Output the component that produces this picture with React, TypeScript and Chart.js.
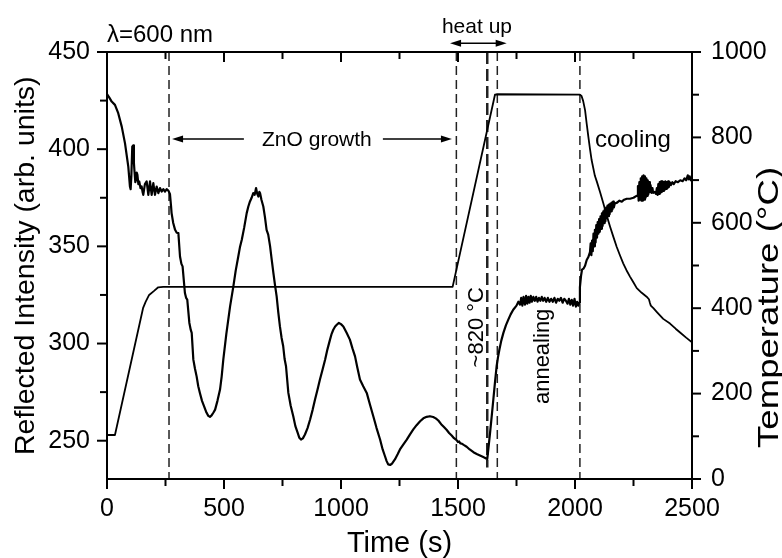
import React, { useEffect, useRef } from "react";
import { Chart, registerables } from "chart.js";

Chart.register(...registerables);

// ---------- data ----------
const reflT = [
  0, 10, 20, 34, 48, 63, 77, 91, 98, 101, 104, 108, 112, 115, 117, 121, 124, 127, 130, 134, 138, 143, 148, 152, 155, 162,
  169.5, 176.6, 183.8, 190.9, 198, 205, 212.3, 219.4, 226.5, 233.6, 240.7, 247.9, 255, 262, 269, 273.5, 276,
  283, 291, 298, 305, 312, 318, 323, 333, 338, 343, 352, 358, 362, 369, 376, 383, 390, 397, 406, 415, 425, 433, 440,
  447, 455, 462, 472, 483, 490, 497, 510, 526, 540, 550, 561, 568, 576, 586, 597, 604, 611, 618, 625, 631, 637, 642,
  647, 651, 654, 660, 668, 675, 682, 689, 697, 704, 711, 718, 725, 732, 739, 746, 753, 759, 765, 775, 785, 796, 805,
  815, 822, 829, 837, 846, 857, 868, 879, 889, 900, 910, 921, 932, 942, 953, 960, 967, 975, 983, 991, 1000, 1010,
  1024, 1038, 1049, 1060, 1070, 1081, 1095, 1110, 1124, 1138, 1152, 1167, 1178, 1188, 1195, 1202, 1210, 1218, 1231,
  1242, 1252, 1266, 1281, 1295, 1309, 1323, 1338, 1352, 1366, 1380, 1394, 1405, 1416, 1428, 1440, 1452, 1462, 1473,
  1483, 1494, 1500, 1505, 1510, 1516, 1526, 1537, 1550, 1566, 1580, 1594, 1608, 1618, 1625, 1630, 1637, 1644, 1651,
  1658, 1665, 1671, 1677, 1685, 1694, 1705, 1715, 1725, 1736, 1750, 1758,
  1765, 1770, 1775, 1780, 1786, 1791, 1796, 1801, 1806, 1811, 1816, 1822, 1828, 1834, 1840, 1846, 1852, 1858, 1864,
  1870, 1877, 1884, 1891, 1898, 1905, 1912, 1919, 1926, 1933, 1940, 1947, 1954, 1961, 1968, 1974, 1980, 1986, 1992,
  1998, 2004, 2009, 2014, 2018, 2021, 2026, 2030, 2036, 2043, 2050, 2057, 2064,
  2067, 2070, 2073, 2076, 2079, 2082, 2085, 2088, 2091, 2094, 2097, 2100, 2103, 2106, 2109, 2112, 2115, 2118, 2121,
  2124, 2127, 2130, 2133, 2136, 2139, 2142, 2145, 2148, 2151, 2154, 2157, 2160, 2163, 2166, 2170,
  2180, 2190, 2200, 2210, 2221, 2235, 2250, 2263,
  2266, 2269, 2272, 2275, 2278, 2281, 2284, 2287, 2290, 2293, 2296, 2299, 2302, 2305, 2308, 2311, 2314, 2317, 2320,
  2323, 2327, 2331, 2334, 2340, 2346,
  2350, 2353, 2356, 2359, 2362, 2365, 2368, 2371, 2374, 2377, 2380, 2383, 2386, 2389, 2392, 2395, 2398, 2401, 2405,
  2410, 2416, 2422, 2430, 2440, 2450, 2460, 2468, 2475, 2482, 2486, 2490, 2495, 2500,
];
const reflR = [
  428.4, 426.5, 424.5, 422.8, 418.5, 411.6, 403, 391, 380.8, 379.4, 386, 401.3, 402, 393, 389.4, 383, 384.2, 388, 386.8, 382, 383.3, 380, 380.8, 378, 376.5, 382,
  383.4, 376.5, 383.4, 376.5, 382.5, 376.5, 380.8, 377.4, 380, 378.2, 379.4, 378.2, 379.4, 378.7, 377, 371, 367.1,
  362, 358.5, 357, 356.8, 344.8, 341, 339.7, 326, 323.5, 322.6, 310.6, 307, 305.5, 291.7, 287, 283.1, 278, 274.6, 270.5, 267.7, 264.5, 262.8, 262.3,
  263, 264.5, 266, 270.5, 276.3, 283, 291.7, 305, 319.1, 329.4, 337.5, 344.8, 349.5, 353.4, 359.5, 367.1, 370.5, 373.1, 375, 377.4, 376.5, 380, 377,
  375.6, 378, 377.4, 374, 370.5, 365, 358.5, 356, 350, 343, 336.3, 330, 324.3, 316, 308.8, 303, 298.6, 292, 288.3, 274.6, 268, 262.6, 257.5,
  254, 251.5, 250.6, 251.2, 253.2, 256.5, 260.9, 266, 271.2, 276.5, 281.5, 286.5, 291.7, 297, 302, 305, 307.1, 308.8, 309.8, 310.6, 310, 308.8,
  305.5, 302, 297.5, 293.4, 287.5, 281.5, 278, 274.6, 268.5, 262.6, 256.5, 250.6, 245.5, 242, 239.5, 237.8, 237.5, 238.2, 240.5,
  243, 245.5, 248, 250.6, 253.3, 255.8, 258, 260, 261.5, 262.3, 262.6, 262.2, 261.5, 260.4, 258.5, 257, 255.5, 254, 252.7,
  251.3, 250.3, 249.3, 249.6, 248.6, 248.5, 247.7, 246.9, 245.5, 244.1, 243.2, 242.4, 241.6, 241, 240.5, 246, 254, 262.5, 271.2,
  280, 288.3, 293, 296.9, 301.5, 305.5, 309.5, 312.3, 315, 317.4, 319.5, 321.5,
  320, 323.5, 319.5, 324, 320, 324.5, 320.5, 324, 321, 324.5, 321.5, 324, 322, 324, 321.5, 323.5, 322, 324, 322,
  323.5, 321.5, 323.5, 321.5, 323, 321.5, 323.5, 321, 323, 322, 323.5, 321, 323, 322, 320.5, 323, 320, 322.5, 319.5,
  323, 319, 321.5, 319.5, 321, 329, 335, 338, 338.5, 340, 343, 344.5, 347,
  351.5, 345.5, 353, 347.5, 356.5, 350, 358.5, 352, 361, 354.5, 362.5, 356.5, 364, 357.5, 365.5, 359, 367, 360.5, 368,
  362, 369, 363, 370, 364.5, 371, 365.5, 371.5, 366.5, 372, 368, 372.5, 369, 373, 370, 372,
  372.5, 373.5, 373, 374, 374.5, 374.5, 375, 376,
  376, 381, 373.5, 383, 374, 385, 373.5, 386, 373.5, 386.5, 374, 386, 375, 385, 376, 384, 377, 383, 378,
  381.5, 377.5, 380, 377.5, 378, 377,
  380, 376.5, 382, 377, 383, 377.5, 383.5, 378, 383.5, 378.5, 383, 379, 383.5, 379.5, 383, 380, 383.5, 380.5, 383,
  381.5, 383, 382, 383.5, 383, 384, 383.5, 385, 384, 386.5, 384.5, 386, 384, 385,
];

const tempT = [
  0, 34, 154, 165, 180, 200, 219, 240, 1477, 1658, 1665, 2021, 2028, 2035, 2043, 2050, 2057, 2064, 2071, 2085, 2093,
  2107, 2121, 2135, 2150, 2164, 2178, 2192, 2206, 2220, 2235, 2250, 2264, 2285, 2306, 2316, 2320, 2324, 2335, 2350,
  2377, 2406, 2430, 2449, 2475, 2500,
];
const tempV = [
  103, 103, 400, 415, 431, 440, 449, 450, 450, 900, 901, 900, 897, 885, 864, 832, 802, 773, 747, 710, 697,
  672, 646, 618, 591, 567, 544, 524, 505, 489, 474, 460, 447, 436, 427, 421, 413, 406, 400, 391,
  375, 364, 352, 343, 331, 320,
];

const markerTimes = [265, 1493, 1625, 1668, 2021];
const markerBottoms = [230.3, 230.3, 236.2, 230.3, 230.3];

const xMajorTicks = [0, 500, 1000, 1500, 2000, 2500];
const xMinorTicks = [250, 750, 1250, 1750, 2250];
const leftMajorTicks = [250, 300, 350, 400, 450];
const leftMinorTicks = [275, 325, 375, 425];
const rightMajorTicks = [0, 200, 400, 600, 800, 1000];
const rightMinorTicks = [100, 300, 500, 700, 900];

const FONT = "'Liberation Sans', Arial, Helvetica, sans-serif";

const decorPlugin = {
  id: "decor",
  afterDraw(chart: any) {
    const { ctx, chartArea: a, scales } = chart;
    const sx = scales.x;
    const sy = scales.y;
    const sy2 = scales.y2;
    ctx.save();
    ctx.strokeStyle = "#000";
    ctx.fillStyle = "#000";
    ctx.lineWidth = 2;
    ctx.lineCap = "butt";
    ctx.strokeRect(a.left, a.top, a.right - a.left, a.bottom - a.top);
    const seg = (x1: number, y1: number, x2: number, y2: number) => {
      ctx.beginPath();
      ctx.moveTo(x1, y1);
      ctx.lineTo(x2, y2);
      ctx.stroke();
    };
    xMajorTicks.forEach((v) => {
      const p = sx.getPixelForValue(v);
      seg(p, a.bottom, p, a.bottom + 10);
      seg(p, a.top, p, a.top + 10);
    });
    xMinorTicks.forEach((v) => {
      const p = sx.getPixelForValue(v);
      seg(p, a.bottom, p, a.bottom + 7);
      seg(p, a.top, p, a.top + 7);
    });
    leftMajorTicks.forEach((v) => {
      const p = sy.getPixelForValue(v);
      seg(a.left - 10, p, a.left, p);
    });
    leftMinorTicks.forEach((v) => {
      const p = sy.getPixelForValue(v);
      seg(a.left - 7, p, a.left, p);
    });
    rightMajorTicks.forEach((v) => {
      const p = sy2.getPixelForValue(v);
      seg(a.right, p, a.right + 9, p);
    });
    rightMinorTicks.forEach((v) => {
      const p = sy2.getPixelForValue(v);
      seg(a.right, p, a.right + 7, p);
    });

    // arrows
    const arrowHead = (x: number, y: number, dir: number) => {
      ctx.beginPath();
      ctx.moveTo(x, y);
      ctx.lineTo(x - dir * 11, y - 3.5);
      ctx.lineTo(x - dir * 11, y + 3.5);
      ctx.closePath();
      ctx.fill();
    };
    ctx.lineWidth = 1.5;
    const yArrow = sy.getPixelForValue(405.3);
    const l1 = sx.getPixelForValue(585);
    const l2 = sx.getPixelForValue(278);
    seg(l1, yArrow, l2 + 6, yArrow);
    arrowHead(l2, yArrow, -1);
    const r1 = sx.getPixelForValue(1179);
    const r2 = sx.getPixelForValue(1474);
    seg(r1, yArrow, r2 - 6, yArrow);
    arrowHead(r2, yArrow, 1);
    const h1 = sx.getPixelForValue(1466);
    const h2 = sx.getPixelForValue(1708);
    const yh = a.top - 8.7;
    seg(h1 + 6, yh, h2 - 6, yh);
    arrowHead(h1, yh, -1);
    arrowHead(h2, yh, 1);

    // texts
    ctx.textBaseline = "alphabetic";
    ctx.textAlign = "left";
    ctx.font = `24px ${FONT}`;
    ctx.fillText("\u03bb=600 nm", sx.getPixelForValue(0), a.top - 10);
    ctx.textAlign = "center";
    ctx.font = `21px ${FONT}`;
    ctx.fillText("heat up", sx.getPixelForValue(1581), a.top - 19);
    ctx.textBaseline = "middle";
    ctx.fillText("ZnO growth", sx.getPixelForValue(897), yArrow + 1);
    ctx.textBaseline = "alphabetic";
    ctx.textAlign = "left";
    ctx.font = `24px ${FONT}`;
    ctx.fillText("cooling", sx.getPixelForValue(2085), sy.getPixelForValue(401.2));

    const vtext = (text: string, bx: number, cy: number, font: string) => {
      ctx.save();
      ctx.translate(bx, cy);
      ctx.rotate(-Math.PI / 2);
      ctx.font = font;
      ctx.textAlign = "center";
      ctx.textBaseline = "alphabetic";
      ctx.fillText(text, 0, 0);
      ctx.restore();
    };
    vtext("~820 \u00b0C", sx.getPixelForValue(1607), sy.getPixelForValue(308.4), `22px ${FONT}`);
    vtext("annealing", sx.getPixelForValue(1889), sy.getPixelForValue(293.4), `22px ${FONT}`);

    // axis titles
    ctx.textAlign = "center";
    ctx.font = `29px ${FONT}`;
    ctx.fillText("Time (s)", (a.left + a.right) / 2, 552);

    ctx.save();
    ctx.translate(33.5, 455);
    ctx.rotate(-Math.PI / 2);
    ctx.textAlign = "left";
    ctx.font = `28.5px ${FONT}`;
    ctx.fillText("Reflected Intensity (arb. units)", 0, 0);
    ctx.restore();

    ctx.save();
    ctx.translate(778, 448);
    ctx.rotate(-Math.PI / 2);
    ctx.scale(1.22, 1);
    ctx.textAlign = "left";
    ctx.font = `30px ${FONT}`;
    ctx.fillText("Temperature (\u00b0C)", 0, 0);
    ctx.restore();

    ctx.restore();
  },
};

const plainLabel = (v: any) => String(v);

export default function App() {
  const ref = useRef<HTMLCanvasElement | null>(null);
  useEffect(() => {
    if (!ref.current) return;
    const tickFont = { family: FONT, size: 25 };
    const reflData = reflT.map((t, i) => ({ x: t, y: reflR[i] }));
    const tempData = tempT.map((t, i) => ({ x: t, y: tempV[i] }));
    const markerSets = markerTimes.map((m, i) => ({
      data: [
        { x: m, y: 450 },
        { x: m, y: markerBottoms[i] },
      ],
      borderColor: "#222",
      borderWidth: m === 1625 ? 2.5 : 1.5,
      borderDash: m === 1625 ? [12, 5] : [9, 5],
      pointRadius: 0,
      yAxisID: "y",
      fill: false,
    }));
    const chart = new Chart(ref.current, {
      type: "line",
      data: {
        datasets: [
          {
            data: reflData,
            borderColor: "#000",
            borderWidth: 2.2,
            pointRadius: 0,
            tension: 0,
            fill: false,
            yAxisID: "y",
            borderJoinStyle: "round",
          } as any,
          {
            data: tempData,
            borderColor: "#000",
            borderWidth: 1.8,
            pointRadius: 0,
            tension: 0,
            fill: false,
            yAxisID: "y2",
            borderJoinStyle: "round",
          } as any,
          ...markerSets,
        ],
      },
      options: {
        responsive: false,
        animation: false,
        devicePixelRatio: 1,
        events: [],
        layout: { padding: { top: 52, left: 0, right: 0, bottom: 0 } },
        plugins: { legend: { display: false }, tooltip: { enabled: false } },
        scales: {
          x: {
            type: "linear",
            position: "bottom",
            min: 0,
            max: 2500,
            grid: { display: false, drawTicks: false },
            border: { display: false },
            ticks: { font: tickFont, color: "#000", padding: 15, maxRotation: 0, autoSkip: false, callback: plainLabel },
            afterBuildTicks: (s: any) => {
              s.ticks = xMajorTicks.map((v) => ({ value: v }));
            },
            afterFit: (s: any) => {
              s.height = 79;
            },
          },
          y: {
            type: "linear",
            position: "left",
            min: 230.3,
            max: 450,
            grid: { display: false, drawTicks: false },
            border: { display: false },
            ticks: { font: tickFont, color: "#000", padding: 17, autoSkip: false, callback: plainLabel },
            afterBuildTicks: (s: any) => {
              s.ticks = leftMajorTicks.map((v) => ({ value: v }));
            },
            afterFit: (s: any) => {
              s.width = 107;
            },
          },
          y2: {
            type: "linear",
            position: "right",
            min: 0,
            max: 1000,
            grid: { display: false, drawTicks: false },
            border: { display: false },
            ticks: { font: tickFont, color: "#000", padding: 19, autoSkip: false, callback: plainLabel },
            afterBuildTicks: (s: any) => {
              s.ticks = rightMajorTicks.map((v) => ({ value: v }));
            },
            afterFit: (s: any) => {
              s.width = 90;
            },
          },
        },
      } as any,
      plugins: [decorPlugin],
    });
    return () => chart.destroy();
  }, []);
  return (
    <div style={{ position: "fixed", left: 0, top: 0, width: 782, height: 558, background: "#fff" }}>
      <canvas ref={ref} width={782} height={558} style={{ display: "block" }} />
    </div>
  );
}
